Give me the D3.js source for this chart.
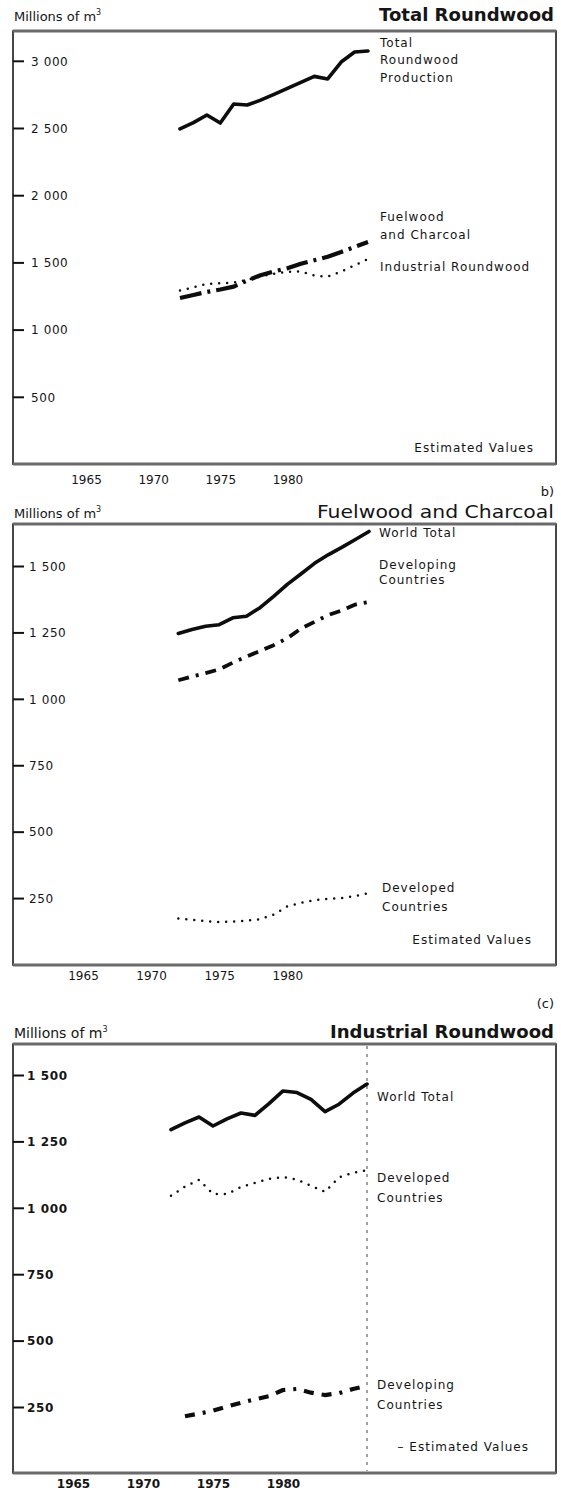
<!DOCTYPE html>
<html><head><meta charset="utf-8">
<script src="https://cdn.jsdelivr.net/npm/d3@7"></script>
<style>
body{margin:0;background:#fff;}
svg text{font-family:"DejaVu Sans",sans-serif;fill:#151515;}
</style></head><body>
<svg id="c" width="561" height="1494"></svg>
<script>
// ---------- DATA ----------
const years = [1972,1973,1974,1975,1976,1977,1978,1979,1980,1981,1982,1983,1984,1985,1986];
const xTickYears = [1965,1970,1975,1980];
const yTicksTotal = [500,1000,1500,2000,2500,3000];
const yTicksSub = [250,500,750,1000,1250,1500];

// (a) Total Roundwood
const totalRoundwood      = [2493,2540,2597,2537,2679,2671,2707,2750,2795,2840,2884,2865,2991,3065,3073];
const fuelwoodCharcoal    = [1235,1258,1280,1298,1320,1365,1404,1433,1457,1490,1516,1542,1577,1615,1652];
const industrialRoundwood = [1290,1315,1340,1345,1350,1370,1395,1415,1430,1432,1402,1394,1432,1478,1525];

// (b) Fuelwood and Charcoal
const fuelWorld      = [1246,1261,1273,1279,1305,1311,1343,1386,1431,1470,1510,1542,1570,1600,1630];
const fuelDeveloping = [1070,1084,1097,1111,1136,1159,1180,1202,1228,1264,1290,1315,1333,1355,1365];
const fuelDeveloped  = [173,168,163,160,161,165,170,188,219,232,242,247,250,258,269];

// (c) Industrial Roundwood
const indWorld      = [1294,1320,1342,1308,1335,1357,1348,1392,1440,1434,1408,1362,1390,1432,1466];
const indDeveloped  = [1045,1080,1105,1052,1052,1078,1094,1109,1116,1106,1083,1060,1115,1132,1142];
const indDeveloping = [null,215,225,236,252,266,279,291,314,318,304,295,302,318,330];

// ---------- DRAWING ----------
const svg = d3.select("#c");
const fmt = d3.formatLocale({decimal:".", thousands:" ", grouping:[3], currency:["",""]}).format(",");

const styles = {
  solid:   {w:3.6, dash:null, cap:"round"},
  dotted:  {w:2.5, dash:"0,8", cap:"round"}
};

function drawPanel(cfg){
  const [fx0, fy0, fx1, fy1] = cfg.frame;
  const x = d3.scaleLinear().domain([1965,1986]).range(cfg.xr);
  const y = d3.scaleLinear().domain([0, cfg.ymax]).range(cfg.yr);
  const g = svg.append("g");

  const clipId = "clip" + cfg.id;
  svg.append("clipPath").attr("id", clipId).append("rect")
    .attr("x", fx0).attr("y", fy0).attr("width", fx1 - fx0).attr("height", fy1 - fy0);

  // header
  const h = g.append("text").attr("x", 14).attr("y", cfg.headY).attr("font-size", cfg.headSize)
    .text("Millions of m");
  h.append("tspan").attr("font-size", 8).attr("dy", -6).text("3");
  g.append("text").attr("x", 554).attr("y", cfg.headY).attr("text-anchor", "end")
    .attr("font-size", cfg.titleSize).attr("font-weight", cfg.titleWeight)
    .attr("textLength", cfg.titleLen).attr("lengthAdjust", "spacingAndGlyphs")
    .text(cfg.title);

  // frame
  g.append("rect").attr("x", fx0).attr("y", fy0).attr("width", fx1 - fx0).attr("height", fy1 - fy0)
    .attr("fill", "none").attr("stroke", "#1a1a1a").attr("stroke-width", 1.6);
  g.append("line").attr("x1", fx0).attr("x2", fx1).attr("y1", fy0).attr("y2", fy0)
    .attr("stroke", "#6a6a6a").attr("stroke-width", 3);
  g.append("line").attr("x1", fx0).attr("x2", fx1).attr("y1", fy1).attr("y2", fy1)
    .attr("stroke", "#6a6a6a").attr("stroke-width", 3);

  // y axis
  g.append("g").attr("transform", `translate(${fx0},0)`)
    .call(d3.axisRight(y).tickValues(cfg.yTicks).tickSize(11).tickPadding(cfg.yPad).tickFormat(fmt))
    .attr("font-size", 12).attr("font-weight", cfg.tickWeight)
    .call(s => s.select(".domain").remove())
    .call(s => s.selectAll(".tick line").attr("stroke", "#111").attr("stroke-width", 2))
    .call(s => s.selectAll(".tick text").attr("dy", "0.36em").style("letter-spacing", "0.6px"));

  // x axis labels
  g.append("g").attr("transform", `translate(0,${cfg.xLabTop})`)
    .call(d3.axisBottom(x).tickValues(xTickYears).tickSize(0).tickPadding(0).tickFormat(d3.format("d")))
    .attr("font-size", 12).attr("font-weight", cfg.tickWeight)
    .call(s => s.select(".domain").remove());

  // vertical estimated-values line
  if (cfg.vline) {
    g.append("line").attr("x1", x(1986)).attr("x2", x(1986)).attr("y1", fy0 + 2).attr("y2", fy1 - 2)
      .attr("stroke", "#444").attr("stroke-width", 1).attr("stroke-dasharray", "3,5");
  }

  // series
  const lines = g.append("g").attr("clip-path", `url(#${clipId})`);
  cfg.series.forEach(s => {
    const st = s.style === "dashdot" ? {w: cfg.ddWidth, dash: cfg.ddDash, cap: "butt"} : styles[s.style];
    const line = d3.line()
      .defined((d, i) => s.values[i] != null)
      .x(d => x(d)).y((d, i) => y(s.values[i]));
    lines.append("path").attr("d", line(years))
      .attr("fill", "none").attr("stroke", "#0d0d0d")
      .attr("stroke-width", st.w).attr("stroke-linejoin", "round").attr("stroke-linecap", st.cap)
      .attr("stroke-dasharray", st.dash);
  });

  // series labels
  cfg.labels.forEach(l => {
    g.append("text").attr("x", l.x).attr("y", l.y).attr("font-size", 12)
      .attr("text-anchor", l.anchor || "start")
      .style("letter-spacing", "1px").text(l.t);
  });
}

drawPanel({
  id: "a", frame: [13, 31, 556, 464], xr: [86, 368], ymax: 3000, yr: [464, 464 - 3000 * 0.1344],
  headY: 21, headSize: 13, title: "Total Roundwood", titleSize: 17, titleWeight: "bold", titleLen: 175,
  yTicks: yTicksTotal, yPad: 7, xLabTop: 475, tickWeight: "normal",
  ddWidth: 4.2, ddDash: "22,6,3,6",
  series: [
    {values: totalRoundwood, style: "solid"},
    {values: industrialRoundwood, style: "dotted"},
    {values: fuelwoodCharcoal, style: "dashdot"}
  ],
  labels: [
    {t: "Total", x: 380, y: 47}, {t: "Roundwood", x: 380, y: 64}, {t: "Production", x: 380, y: 82},
    {t: "Fuelwood", x: 380, y: 221}, {t: "and Charcoal", x: 380, y: 239},
    {t: "Industrial Roundwood", x: 380, y: 271},
    {t: "Estimated Values", x: 534, y: 452, anchor: "end"}
  ]
});

g0 = svg.append("text").attr("x", 554).attr("y", 496).attr("text-anchor", "end").attr("font-size", 13).text("b)");

drawPanel({
  id: "b", frame: [13, 524, 556, 965], xr: [83, 369], ymax: 1500, yr: [964.5, 566],
  headY: 518, headSize: 13, title: "Fuelwood and Charcoal", titleSize: 17, titleWeight: "normal", titleLen: 237,
  yTicks: yTicksSub, yPad: 5, xLabTop: 971, tickWeight: "normal",
  ddWidth: 3.8, ddDash: "11,7,3,7,11,7",
  series: [
    {values: fuelWorld, style: "solid"},
    {values: fuelDeveloping, style: "dashdot"},
    {values: fuelDeveloped, style: "dotted"}
  ],
  labels: [
    {t: "World Total", x: 379, y: 537},
    {t: "Developing", x: 379, y: 569}, {t: "Countries", x: 379, y: 584},
    {t: "Developed", x: 382, y: 892}, {t: "Countries", x: 382, y: 911},
    {t: "Estimated Values", x: 532, y: 944, anchor: "end"}
  ]
});

svg.append("text").attr("x", 554).attr("y", 1008).attr("text-anchor", "end").attr("font-size", 13).text("(c)");

drawPanel({
  id: "c", frame: [13, 1044, 556, 1473], xr: [73, 367], ymax: 1500, yr: [1473.4, 1075],
  headY: 1038, headSize: 14, title: "Industrial Roundwood", titleSize: 17, titleWeight: "bold", titleLen: 224,
  yTicks: yTicksSub, yPad: 3, xLabTop: 1479, tickWeight: "bold",
  ddWidth: 4.2, ddDash: "10,8,3,8,10,8", vline: true,
  series: [
    {values: indWorld, style: "solid"},
    {values: indDeveloped, style: "dotted"},
    {values: indDeveloping, style: "dashdot"}
  ],
  labels: [
    {t: "World Total", x: 377, y: 1101},
    {t: "Developed", x: 377, y: 1182}, {t: "Countries", x: 377, y: 1202},
    {t: "Developing", x: 377, y: 1389}, {t: "Countries", x: 377, y: 1409},
    {t: "–  Estimated Values", x: 529, y: 1451, anchor: "end"}
  ]
});
</script>
</body></html>
